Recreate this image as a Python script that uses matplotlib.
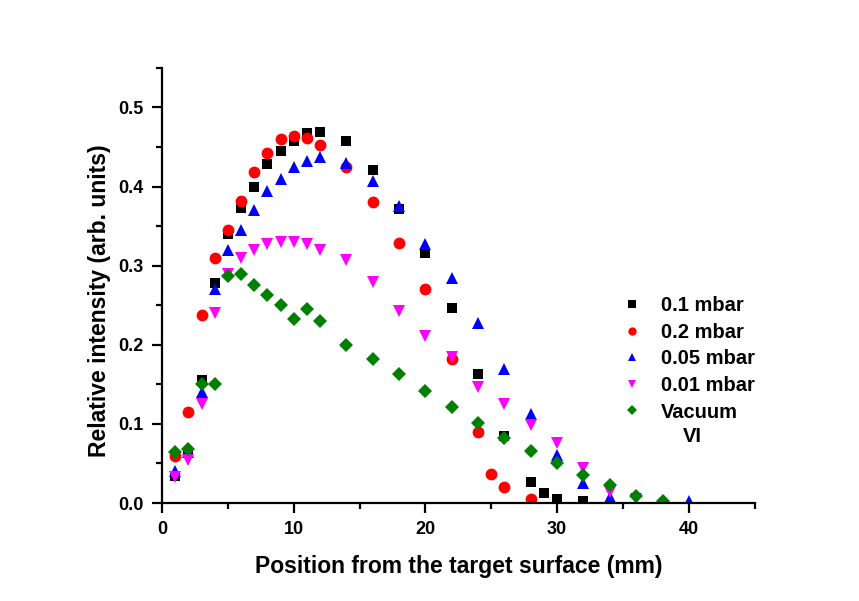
import matplotlib
matplotlib.use("Agg")
import matplotlib.pyplot as plt
from matplotlib.ticker import MultipleLocator

plt.rcParams['font.family'] = ['Liberation Sans', 'DejaVu Sans']
plt.rcParams['font.weight'] = 'bold'

# position from target surface (mm)
x_01 = [1, 2, 3, 4, 5, 6, 7, 8, 9, 10, 11, 12, 14, 16, 18, 20, 22, 24, 26, 28, 29, 30, 32]
y_01 = [0.034, 0.065, 0.156, 0.278, 0.340, 0.373, 0.400, 0.428, 0.445, 0.458, 0.468, 0.469,
        0.457, 0.421, 0.372, 0.316, 0.247, 0.163, 0.085, 0.026, 0.013, 0.005, 0.002]

x_02 = [1, 2, 3, 4, 5, 6, 7, 8, 9, 10, 11, 12, 14, 16, 18, 20, 22, 24, 25, 26, 28]
y_02 = [0.060, 0.115, 0.238, 0.310, 0.345, 0.382, 0.418, 0.443, 0.460, 0.464, 0.462, 0.452,
        0.425, 0.381, 0.329, 0.270, 0.182, 0.090, 0.037, 0.020, 0.005]

x_005 = [1, 2, 3, 4, 5, 6, 7, 8, 9, 10, 11, 12, 14, 16, 18, 20, 22, 24, 26, 28, 30, 32, 34, 40]
y_005 = [0.040, 0.065, 0.140, 0.270, 0.320, 0.345, 0.370, 0.395, 0.410, 0.425, 0.432, 0.437,
         0.430, 0.407, 0.375, 0.328, 0.285, 0.228, 0.170, 0.113, 0.061, 0.025, 0.008, 0.003]

x_001 = [1, 2, 3, 4, 5, 6, 7, 8, 9, 10, 11, 12, 14, 16, 18, 20, 22, 24, 26, 28, 30, 32, 34, 36]
y_001 = [0.033, 0.055, 0.125, 0.240, 0.290, 0.310, 0.320, 0.328, 0.330, 0.330, 0.328, 0.320,
         0.307, 0.279, 0.243, 0.211, 0.185, 0.147, 0.125, 0.099, 0.076, 0.044, 0.014, 0.005]

x_vac = [1, 2, 3, 4, 5, 6, 7, 8, 9, 10, 11, 12, 14, 16, 18, 20, 22, 24, 26, 28, 30, 32, 34, 36, 38]
y_vac = [0.064, 0.068, 0.150, 0.150, 0.287, 0.289, 0.276, 0.263, 0.250, 0.232, 0.245, 0.230,
         0.200, 0.182, 0.163, 0.142, 0.121, 0.101, 0.082, 0.066, 0.051, 0.035, 0.023, 0.009, 0.003]

fig = plt.figure(figsize=(8.59, 6.01), dpi=100)
ax = fig.add_axes([0.1886, 0.163, 0.690, 0.724])

ax.plot(x_01, y_01, 's', color='black', ms=7.5, mew=0, label='0.1 mbar')
ax.plot(x_02, y_02, 'o', color='red', ms=8.5, mew=0, label='0.2 mbar')
ax.plot(x_005, y_005, '^', color='blue', ms=9, mew=0, label='0.05 mbar')
ax.plot(x_001, y_001, 'v', color='magenta', ms=9, mew=0, label='0.01 mbar')
ax.plot(x_vac, y_vac, 'D', color='green', ms=7.5, mew=0, label='Vacuum')

ax.set_xlim(0, 45)
ax.set_ylim(0, 0.55)
ax.xaxis.set_major_locator(MultipleLocator(10))
ax.xaxis.set_minor_locator(MultipleLocator(5))
ax.yaxis.set_major_locator(MultipleLocator(0.1))
ax.yaxis.set_minor_locator(MultipleLocator(0.05))
ax.yaxis.set_major_formatter(plt.FormatStrFormatter('%.1f'))

for s in ['top', 'right']:
    ax.spines[s].set_visible(False)
for s in ['left', 'bottom']:
    ax.spines[s].set_linewidth(1.6)
ax.tick_params(which='major', direction='out', length=7, width=1.6, labelsize=13, pad=6)
ax.tick_params(which='minor', direction='out', length=4, width=1.6)

ax.set_xlabel('Position from the target surface (mm)', fontsize=16.5, fontweight='bold', labelpad=12)
ax.set_ylabel('Relative intensity (arb. units)', fontsize=16.5, fontweight='bold')
ax.yaxis.set_label_coords(-0.086, 0.464)

leg = ax.legend(loc='upper left', bbox_to_anchor=(0.776, 0.476), frameon=False,
                fontsize=14.5, markerscale=0.7, handletextpad=0.95, labelspacing=0.38,
                handlelength=1.0, borderpad=0, borderaxespad=0)
ax.text(0.879, 0.152, 'VI', transform=ax.transAxes, fontsize=14.5, fontweight='bold',
        va='center')

fig.savefig('out.png', dpi=100)
